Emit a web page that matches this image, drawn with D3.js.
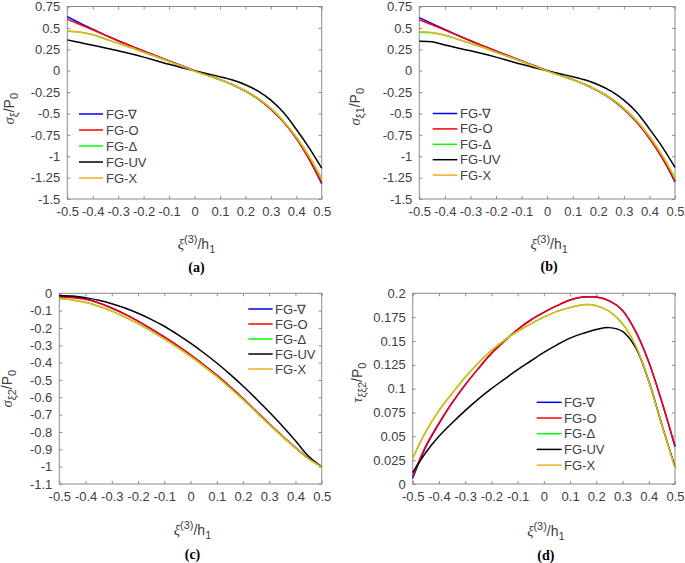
<!DOCTYPE html>
<html><head><meta charset="utf-8">
<script src="https://cdn.jsdelivr.net/npm/d3@7"></script>
<style>body{margin:0;background:#fff}svg{display:block}</style>
</head><body><svg id="chart" width="685" height="563"></svg>
<script>
// ---------- data ----------
const xs = [-0.5, -0.45, -0.4, -0.35, -0.3, -0.25, -0.2, -0.15, -0.1, -0.05, 0,
            0.05, 0.1, 0.15, 0.2, 0.25, 0.3, 0.35, 0.4, 0.45, 0.5];
const seriesNames = ["FG-\u2207", "FG-O", "FG-\u0394", "FG-UV", "FG-X"];
const xTicks = [-0.5, -0.4, -0.3, -0.2, -0.1, 0, 0.1, 0.2, 0.3, 0.4, 0.5];
const yTicksAB = [0.75, 0.5, 0.25, 0, -0.25, -0.5, -0.75, -1, -1.25, -1.5];
const yTicksC = [0, -0.1, -0.2, -0.3, -0.4, -0.5, -0.6, -0.7, -0.8, -0.9, -1, -1.1];
const yTicksD = [0, 0.025, 0.05, 0.075, 0.1, 0.125, 0.15, 0.175, 0.2];

// panel (a) sigma_xi / P0
const aNabla = [0.63, 0.555, 0.485, 0.415, 0.35, 0.29, 0.23, 0.172, 0.115, 0.057, 0.0,
                -0.05, -0.105, -0.165, -0.24, -0.33, -0.45, -0.60, -0.79, -1.03, -1.32];
const aO     = [0.60, 0.54, 0.478, 0.413, 0.349, 0.289, 0.229, 0.171, 0.114, 0.056, 0.0,
                -0.05, -0.105, -0.165, -0.24, -0.33, -0.45, -0.60, -0.79, -1.03, -1.31];
const aDelta = [0.46, 0.45, 0.42, 0.37, 0.32, 0.27, 0.215, 0.162, 0.108, 0.052, -0.004,
                -0.055, -0.107, -0.165, -0.235, -0.325, -0.44, -0.59, -0.775, -1.0, -1.27];
const aUV    = [0.36, 0.328, 0.296, 0.265, 0.232, 0.197, 0.158, 0.116, 0.074, 0.035, 0.0,
                -0.035, -0.07, -0.11, -0.165, -0.24, -0.345, -0.49, -0.685, -0.90, -1.14];
const aX     = [0.465, 0.452, 0.42, 0.37, 0.32, 0.27, 0.215, 0.162, 0.108, 0.052, -0.004,
                -0.055, -0.107, -0.165, -0.235, -0.325, -0.44, -0.59, -0.775, -1.0, -1.26];

// panel (b) sigma_xi1 / P0
const bNabla = [0.62, 0.55, 0.482, 0.414, 0.35, 0.29, 0.23, 0.172, 0.115, 0.057, 0.0,
                -0.05, -0.105, -0.165, -0.24, -0.33, -0.45, -0.60, -0.79, -1.02, -1.30];
const bO     = [0.595, 0.537, 0.476, 0.412, 0.349, 0.289, 0.229, 0.171, 0.114, 0.056, 0.0,
                -0.05, -0.105, -0.165, -0.24, -0.33, -0.45, -0.60, -0.79, -1.02, -1.29];
const bDelta = [0.45, 0.443, 0.415, 0.368, 0.32, 0.27, 0.215, 0.162, 0.108, 0.052, -0.004,
                -0.055, -0.107, -0.165, -0.235, -0.325, -0.44, -0.585, -0.77, -0.99, -1.26];
const bUV    = [0.345, 0.338, 0.3, 0.265, 0.232, 0.197, 0.158, 0.116, 0.074, 0.035, 0.0,
                -0.035, -0.07, -0.11, -0.165, -0.24, -0.345, -0.485, -0.68, -0.89, -1.13];
const bX     = [0.455, 0.447, 0.415, 0.368, 0.32, 0.27, 0.215, 0.162, 0.108, 0.052, -0.004,
                -0.055, -0.107, -0.165, -0.235, -0.325, -0.44, -0.585, -0.77, -0.99, -1.25];

// panel (c) sigma_xi2 / P0
const cNabla = [-0.015, -0.02, -0.032, -0.055, -0.085, -0.12, -0.16, -0.205, -0.252, -0.302, -0.355,
                -0.412, -0.472, -0.538, -0.607, -0.68, -0.753, -0.824, -0.89, -0.953, -1.0];
const cO     = [-0.022, -0.025, -0.035, -0.056, -0.086, -0.12, -0.16, -0.205, -0.252, -0.302, -0.355,
                -0.412, -0.472, -0.538, -0.607, -0.68, -0.753, -0.824, -0.89, -0.953, -1.0];
const cDelta = [-0.03, -0.038, -0.052, -0.075, -0.103, -0.137, -0.175, -0.218, -0.263, -0.312, -0.364,
                -0.42, -0.48, -0.545, -0.613, -0.685, -0.757, -0.827, -0.892, -0.955, -1.0];
const cUV    = [-0.012, -0.016, -0.025, -0.04, -0.06, -0.085, -0.115, -0.15, -0.19, -0.237, -0.288,
                -0.343, -0.402, -0.466, -0.535, -0.608, -0.685, -0.765, -0.85, -0.94, -1.0];
const cX     = [-0.03, -0.038, -0.052, -0.075, -0.103, -0.137, -0.175, -0.218, -0.263, -0.312, -0.364,
                -0.42, -0.48, -0.545, -0.613, -0.685, -0.757, -0.827, -0.892, -0.955, -1.0];

// panel (d) tau_xixi2 / P0
const dNabla = [0.006, 0.039, 0.063, 0.085, 0.104, 0.121, 0.137, 0.15, 0.162, 0.172, 0.18,
                0.187, 0.193, 0.196, 0.196, 0.192, 0.182, 0.16, 0.128, 0.086, 0.039];
const dO     = [0.008, 0.04, 0.064, 0.085, 0.104, 0.121, 0.137, 0.15, 0.162, 0.172, 0.18,
                0.187, 0.193, 0.196, 0.196, 0.192, 0.182, 0.16, 0.128, 0.086, 0.04];
const dDelta = [0.027, 0.055, 0.077, 0.095, 0.112, 0.127, 0.14, 0.151, 0.16, 0.168, 0.175,
                0.181, 0.185, 0.188, 0.187, 0.181, 0.168, 0.145, 0.108, 0.062, 0.017];
const dUV    = [0.012, 0.033, 0.05, 0.064, 0.077, 0.089, 0.1, 0.11, 0.12, 0.129, 0.138,
                0.146, 0.153, 0.158, 0.162, 0.164, 0.16, 0.143, 0.108, 0.062, 0.018];
const dX     = [0.027, 0.055, 0.077, 0.095, 0.112, 0.127, 0.14, 0.151, 0.16, 0.168, 0.175,
                0.181, 0.185, 0.188, 0.187, 0.181, 0.168, 0.145, 0.108, 0.062, 0.017];

// ---------- styling / layout ----------
const colors = ["#0000ff", "#ff0000", "#00ff00", "#000000", "#edb120"];
const panels = [
  {box:[67.3, 6.5, 321.7, 199], yDom:[-1.5, 0.75], yTicks:yTicksAB, series:[aNabla,aO,aDelta,aUV,aX],
   ylab:[["σ","g"],["ξ","sub"],["/P",""],["0","sub"]], ylabX:14, ylabDY:6,
   leg:{x1:79, x2:103, tx:106, y0:114, dy:16}, xlabY:249, cap:"(a)", capY:272},
  {box:[419.3, 6.5, 675, 199], yDom:[-1.5, 0.75], yTicks:yTicksAB, series:[bNabla,bO,bDelta,bUV,bX],
   ylab:[["σ","g"],["ξ1","sub"],["/P",""],["0","sub"]], ylabX:360, ylabDY:4,
   leg:{x1:432.7, x2:457.3, tx:460, y0:113.5, dy:15.4}, xlabY:249, cap:"(b)", capY:271},
  {box:[59.3, 293.3, 321.7, 484], yDom:[-1.1, 0], yTicks:yTicksC, series:[cNabla,cO,cDelta,cUV,cX],
   ylab:[["σ","g"],["ξ2","sub"],["/P",""],["0","sub"]], ylabX:12, ylabDY:0,
   leg:{x1:248.3, x2:272.7, tx:275, y0:309, dy:15}, xlabY:535, cap:"(c)", capY:559},
  {box:[412.7, 293.3, 675, 484], yDom:[0, 0.2], yTicks:yTicksD, series:[dNabla,dO,dDelta,dUV,dX],
   ylab:[["τ","g"],["ξξ2","sub"],["/P",""],["0","sub"]], ylabX:362, ylabDY:-6,
   leg:{x1:536.7, x2:561.7, tx:564, y0:402.3, dy:15.7}, xlabY:536, cap:"(d)", capY:560}
];

const svg = d3.select("#chart");
const FONT = "'Liberation Sans', Arial, sans-serif";
const TXT = "#404040";
const AX = "#8a8a8a";
const fmt = v => String(+v.toFixed(4));

function rich(sel, parts, size) {
  let shift = 0;
  parts.forEach(([t, kind]) => {
    const ts = sel.append("tspan").text(t);
    let target = 0;
    if (kind === "sub") target = size * 0.32;
    if (kind === "sup") target = -size * 0.42;
    ts.attr("dy", target - shift);
    shift = target;
    if (kind === "sub" || kind === "sup") ts.attr("font-size", size * 0.78);
    if (kind === "g") ts.attr("font-family", "'Liberation Serif','DejaVu Serif',serif").attr("font-style", "italic").attr("font-size", size * 1.05);
  });
}

panels.forEach(p => {
  const [L, T, R, B] = p.box;
  const x = d3.scaleLinear().domain([-0.5, 0.5]).range([L, R]);
  const y = d3.scaleLinear().domain(p.yDom).range([B, T]);
  const g = svg.append("g");

  g.append("rect").attr("x", L).attr("y", T).attr("width", R - L).attr("height", B - T)
    .attr("fill", "none").attr("stroke", AX).attr("stroke-width", 1);

  const xa = g.append("g").attr("transform", `translate(0,${B})`)
    .call(d3.axisBottom(x).tickValues(xTicks).tickSize(-3).tickPadding(8).tickFormat(fmt));
  const xt = g.append("g").attr("transform", `translate(0,${T})`)
    .call(d3.axisTop(x).tickValues(xTicks).tickSize(-3).tickFormat(""));
  const ya = g.append("g").attr("transform", `translate(${L},0)`)
    .call(d3.axisLeft(y).tickValues(p.yTicks).tickSize(-3).tickPadding(7).tickFormat(fmt));
  const yr = g.append("g").attr("transform", `translate(${R},0)`)
    .call(d3.axisRight(y).tickValues(p.yTicks).tickSize(-3).tickFormat(""));
  [xa, xt, ya, yr].forEach(a => {
    a.select(".domain").remove();
    a.selectAll(".tick line").attr("stroke", AX);
    a.selectAll(".tick text").attr("fill", TXT).attr("font-family", FONT).attr("font-size", 13);
  });

  const line = d3.line().x((d, i) => x(xs[i])).y(d => y(d)).curve(d3.curveCatmullRom.alpha(0.5));
  p.series.forEach((s, i) => {
    g.append("path").datum(s).attr("d", line).attr("fill", "none")
      .attr("stroke", colors[i]).attr("stroke-width", 1.5);
  });

  seriesNames.forEach((n, i) => {
    const yy = p.leg.y0 + i * p.leg.dy;
    g.append("line").attr("x1", p.leg.x1).attr("x2", p.leg.x2).attr("y1", yy).attr("y2", yy)
      .attr("stroke", colors[i]).attr("stroke-width", 1.5);
    g.append("text").attr("x", p.leg.tx).attr("y", yy).attr("dy", "0.35em")
      .attr("font-family", FONT).attr("font-size", 13).attr("fill", TXT).text(n);
  });

  const cy = (T + B) / 2 + p.ylabDY;
  const yl = g.append("text").attr("transform", `translate(${p.ylabX},${cy}) rotate(-90)`)
    .attr("text-anchor", "middle").attr("font-family", FONT).attr("font-size", 14).attr("fill", TXT);
  rich(yl, p.ylab, 14);

  const xl = g.append("text").attr("x", (L + R) / 2 + 2).attr("y", p.xlabY)
    .attr("text-anchor", "middle").attr("font-family", FONT).attr("font-size", 14).attr("fill", TXT);
  rich(xl, [["ξ", "g"], ["(3)", "sup"], ["/h", ""], ["1", "sub"]], 14);

  g.append("text").attr("x", (L + R) / 2 + 2).attr("y", p.capY).attr("text-anchor", "middle")
    .attr("font-family", "'Liberation Serif','Times New Roman',serif").attr("font-weight", "bold")
    .attr("font-size", 14).attr("fill", "#000").text(p.cap);
});
</script></body></html>
